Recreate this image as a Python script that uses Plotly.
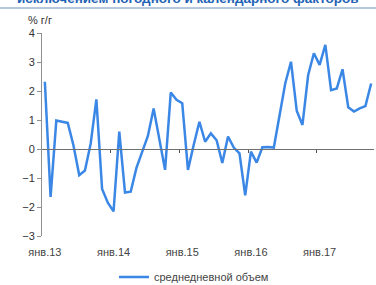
import plotly.graph_objects as go

# monthly y/y values, Jan 2013 .. Oct 2017
values = [2.32, -1.65, 0.98, 0.93, 0.90, 0.12, -0.90, -0.74, 0.18, 1.71,
          -1.38, -1.85, -2.15, 0.60, -1.50, -1.47, -0.65, -0.10, 0.45, 1.40,
          0.35, -0.72, 1.95, 1.70, 1.58, -0.72, 0.14, 0.94, 0.25, 0.54,
          0.30, -0.48, 0.43, 0.05, -0.15, -1.60, -0.09, -0.47, 0.06, 0.07,
          0.05, 1.23, 2.27, 3.01, 1.32, 0.83, 2.55, 3.30, 2.90, 3.59,
          2.03, 2.09, 2.75, 1.44, 1.29, 1.40, 1.48, 2.26]
months = list(range(len(values)))
year_ticks = [0, 12, 24, 36, 48]
year_labels = ["янв.13", "янв.14", "янв.15", "янв.16", "янв.17"]
year_bounds = [11.5, 23.5, 35.5, 47.5]
series_name = "среднедневной объем"
title_text = "исключением погодного и календарного факторов"
unit_text = "% г/г"

FONT = "Arial, Liberation Sans, sans-serif"
W, H = 376, 285
ml, mr, mt, mb = 42, 2, 33, 49
pw = W - ml - mr
ph = H - mt - mb

def py(p):
    return (H - mb - p) / ph

def px(p):
    return (p - ml) / pw

fig = go.Figure()
fig.add_trace(go.Scatter(x=months, y=values, mode="lines", name=series_name,
                         line=dict(color="#3b87e6", width=2.5), cliponaxis=False))
# helper invisible trace for the bottom label axis
fig.add_trace(go.Scatter(x=[0], y=[0], xaxis="x2", mode="markers",
                         marker=dict(opacity=0), showlegend=False, hoverinfo="skip"))

fig.update_layout(
    width=W, height=H,
    margin=dict(l=ml, r=mr, t=mt, b=mb, autoexpand=False),
    paper_bgcolor="white", plot_bgcolor="white",
    font=dict(family=FONT, size=11, color="#444"),
    showlegend=True,
    legend=dict(orientation="h", x=px(114), xanchor="left",
                y=py(277), yanchor="middle", font=dict(size=11, color="#444"),
                bgcolor="rgba(0,0,0,0)"),
    xaxis=dict(range=[-0.5, 57.5], anchor="free", position=3 / 7,
               showline=True, linecolor="#707070", linewidth=1,
               tickmode="array", tickvals=year_bounds, ticks="outside",
               ticklen=3, tickcolor="#505050", showticklabels=False,
               showgrid=False, zeroline=False, fixedrange=True, automargin=False),
    xaxis2=dict(range=[-0.5, 57.5], overlaying="x", anchor="y", side="bottom",
                tickmode="array", tickvals=year_ticks, ticktext=year_labels,
                ticks="", showline=False, showgrid=False, zeroline=False,
                ticklabelstandoff=8, automargin=False,
                tickfont=dict(size=11, color="#444")),
    yaxis=dict(range=[-3, 4], tickmode="array", tickvals=list(range(-3, 5)),
               showline=True, linecolor="#909090", linewidth=1,
               ticks="outside", ticklen=4, tickcolor="#909090",
               showgrid=False, zeroline=False, automargin=False,
               tickfont=dict(size=11, color="#333", family="Arial Black, Liberation Sans, sans-serif")),
)

fig.add_annotation(text=unit_text, xref="paper", yref="paper",
                   x=px(26), y=py(20), xanchor="left",
                   yanchor="middle", showarrow=False,
                   font=dict(size=11, color="#333"))
fig.add_annotation(text="<b>" + title_text + "</b>", xref="paper", yref="paper",
                   x=px(188), y=py(-2), xanchor="center",
                   yanchor="middle", showarrow=False,
                   font=dict(size=13.5, color="#1f63b5"))
fig.add_shape(type="line", xref="paper", yref="paper",
              x0=px(0), x1=px(W), y0=py(8), y1=py(8),
              line=dict(color="#6d8fbf", width=1))

fig.write_html("out.html", config={"displayModeBar": False},
               post_script="document.body.style.margin='0';document.body.style.padding='0';document.body.style.overflow='hidden';")
